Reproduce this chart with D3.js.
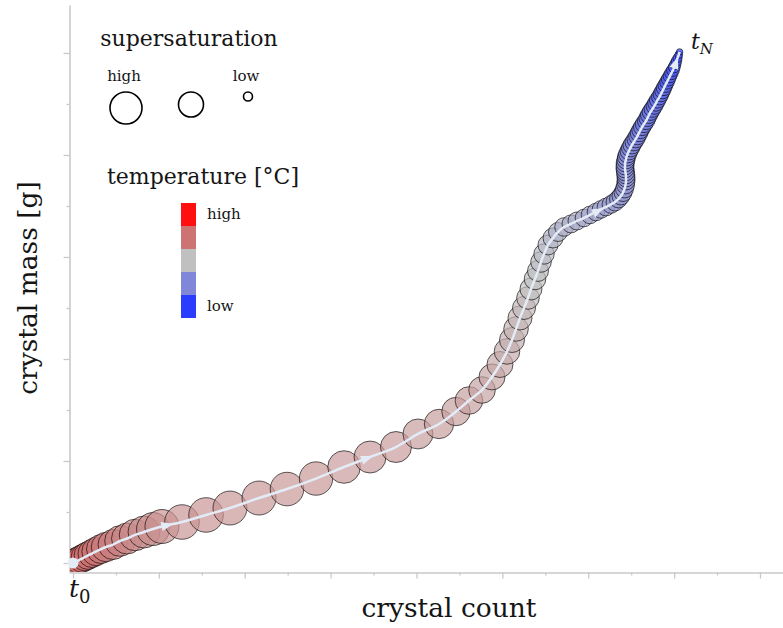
<!DOCTYPE html>
<html>
<head>
<meta charset="utf-8">
<script src="https://cdn.jsdelivr.net/npm/d3@7"></script>
<style>
  body { margin: 0; background: #fff; }
  svg { display: block; }
  text { font-family: "DejaVu Serif", serif; fill: #151515; }
</style>
</head>
<body>
<svg id="chart" width="783" height="628"></svg>
<script>
// Trajectory of the crystallisation run, one entry per time step (t0 ... tN)
const crystalCount = [
  0.000, 0.023, 0.047, 0.070, 0.105, 0.140, 0.175, 0.221, 0.268, 0.326,
  0.384, 0.466, 0.547, 0.629, 0.722, 0.827, 0.932, 1.036, 1.269, 1.549,
  1.828, 2.166, 2.492, 2.830, 3.156, 3.459, 3.761, 4.017, 4.262, 4.460,
  4.611, 4.763, 4.879, 4.972, 5.054, 5.112, 5.159, 5.205, 5.252, 5.298,
  5.333, 5.380, 5.415, 5.450, 5.485, 5.531, 5.590, 5.648, 5.718, 5.799,
  5.869, 5.950, 6.020, 6.090, 6.148, 6.207, 6.265, 6.312, 6.352, 6.381,
  6.405, 6.422, 6.434, 6.440, 6.440, 6.438, 6.433, 6.428, 6.428, 6.430,
  6.438, 6.445, 6.458, 6.474, 6.492, 6.509, 6.531, 6.554, 6.573, 6.591,
  6.608, 6.628, 6.649, 6.673, 6.690, 6.707, 6.726, 6.748, 6.770, 6.789,
  6.808, 6.830, 6.847, 6.865, 6.882, 6.899, 6.917, 6.934, 6.952, 6.969,
  6.987, 7.002, 7.015, 7.028, 7.040, 7.053, 7.064
];
const crystalMass = [
  0.000, 0.010, 0.020, 0.029, 0.044, 0.059, 0.074, 0.093, 0.113, 0.137,
  0.157, 0.181, 0.216, 0.240, 0.275, 0.304, 0.333, 0.358, 0.402, 0.471,
  0.539, 0.637, 0.725, 0.828, 0.941, 1.039, 1.137, 1.265, 1.363, 1.485,
  1.593, 1.696, 1.824, 1.946, 2.074, 2.186, 2.294, 2.402, 2.500, 2.598,
  2.686, 2.784, 2.863, 2.951, 3.029, 3.118, 3.186, 3.245, 3.294, 3.324,
  3.353, 3.382, 3.412, 3.441, 3.466, 3.490, 3.515, 3.539, 3.569, 3.598,
  3.632, 3.667, 3.706, 3.745, 3.775, 3.804, 3.833, 3.863, 3.892, 3.922,
  3.951, 3.980, 4.010, 4.039, 4.069, 4.098, 4.127, 4.157, 4.186, 4.216,
  4.245, 4.275, 4.304, 4.333, 4.363, 4.392, 4.422, 4.451, 4.480, 4.510,
  4.539, 4.569, 4.598, 4.627, 4.657, 4.686, 4.716, 4.745, 4.775, 4.804,
  4.833, 4.863, 4.892, 4.922, 4.951, 4.980, 5.010
];
const supersaturation = [
  1.35, 1.35, 1.35, 1.36, 1.37, 1.38, 1.39, 1.40, 1.42, 1.45,
  1.47, 1.50, 1.53, 1.55, 1.58, 1.60, 1.65, 1.70, 1.73, 1.73,
  1.70, 1.70, 1.68, 1.67, 1.63, 1.60, 1.55, 1.50, 1.47, 1.42,
  1.38, 1.33, 1.30, 1.30, 1.28, 1.25, 1.23, 1.20, 1.15, 1.13,
  1.10, 1.08, 1.05, 1.03, 1.02, 1.00, 1.00, 0.95, 0.93, 0.90,
  0.90, 0.88, 0.88, 0.88, 0.88, 0.89, 0.89, 0.90, 0.90, 0.90,
  0.90, 0.90, 0.90, 0.90, 0.90, 0.90, 0.90, 0.90, 0.90, 0.90,
  0.90, 0.90, 0.90, 0.90, 0.90, 0.90, 0.89, 0.89, 0.88, 0.88,
  0.87, 0.87, 0.87, 0.86, 0.86, 0.85, 0.85, 0.84, 0.83, 0.83,
  0.82, 0.80, 0.79, 0.78, 0.77, 0.75, 0.73, 0.71, 0.69, 0.67,
  0.64, 0.60, 0.56, 0.52, 0.46, 0.39, 0.32
];
// relative temperature, 1 = high, 0 = low
const temperature = [
  0.78, 0.78, 0.77, 0.77, 0.76, 0.76, 0.75, 0.75, 0.74, 0.73,
  0.72, 0.71, 0.70, 0.69, 0.68, 0.67, 0.66, 0.66, 0.65, 0.65,
  0.64, 0.64, 0.64, 0.64, 0.63, 0.63, 0.63, 0.62, 0.62, 0.61,
  0.61, 0.60, 0.59, 0.58, 0.57, 0.56, 0.55, 0.54, 0.53, 0.52,
  0.51, 0.50, 0.49, 0.48, 0.47, 0.46, 0.45, 0.44, 0.43, 0.42,
  0.41, 0.40, 0.39, 0.38, 0.37, 0.36, 0.35, 0.34, 0.33, 0.33,
  0.32, 0.32, 0.31, 0.31, 0.30, 0.30, 0.29, 0.29, 0.28, 0.28,
  0.27, 0.27, 0.26, 0.26, 0.25, 0.25, 0.24, 0.24, 0.23, 0.23,
  0.22, 0.22, 0.21, 0.21, 0.20, 0.20, 0.19, 0.19, 0.18, 0.18,
  0.17, 0.17, 0.16, 0.15, 0.15, 0.14, 0.13, 0.12, 0.12, 0.11,
  0.10, 0.09, 0.08, 0.07, 0.06, 0.05, 0.04
];
// direction arrows along the trajectory (fractional step index)
const arrowSteps = [17.25, 24.88, 53.4, 102.3];

// unlabelled axis ticks
const xTicks = [0, 0.5, 1, 1.5, 2, 2.5, 3, 3.5, 4, 4.5, 5, 5.5, 6, 6.5, 7, 7.5, 8];
const yTicks = [0, 0.5, 1, 1.5, 2, 2.5, 3, 3.5, 4, 4.5, 5];

// legends
const sizeLegendLabels = ["high", "", "low"];
const sizeLegendValues = [1.6, 1.25, 0.45];
const tempLegendLevels = [1, 0.75, 0.5, 0.25, 0];
const tempLegendLabels = ["high", "", "", "", "low"];

const svg = d3.select("#chart");
const W = 783, H = 628;

const x = d3.scaleLinear().domain([-0.041, 8.268]).range([69.5, 783]);
const y = d3.scaleLinear().domain([-0.093, 5.47]).range([572.5, 5]);
const r = d3.scaleLinear().domain([0, 2]).range([0, 20]);
const color = d3.scaleLinear()
  .domain([0, 0.25, 0.5, 0.75, 1])
  .range(["#2a3cff", "#8086d8", "#c0c0c0", "#cd7373", "#ff0f0f"]);

const axisColor = "#c9c9c9";

// axes (no tick labels)
const gx = svg.append("g").attr("transform", `translate(0,${y.range()[0]})`)
  .call(d3.axisBottom(x).tickValues(xTicks).tickFormat("").tickSizeOuter(0));
gx.selectAll(".tick line").attr("y2", d => (d % 1 === 0 ? 6 : 3));
const gy = svg.append("g").attr("transform", `translate(${x.range()[0]},0)`)
  .call(d3.axisLeft(y).tickValues(yTicks).tickFormat("").tickSizeOuter(0));
gy.selectAll(".tick line").attr("x2", d => (d % 1 === 0 ? -6 : -3));
[gx, gy].forEach(g => {
  g.select(".domain").attr("stroke", axisColor).attr("stroke-width", 1.6);
  g.selectAll(".tick line").attr("stroke", axisColor).attr("stroke-width", 1.3);
});

// plot area clip
svg.append("clipPath").attr("id", "plot-clip")
  .append("rect")
  .attr("x", x.range()[0] + 0.8).attr("y", 0)
  .attr("width", W).attr("height", y.range()[0] - 0.8);

const steps = crystalCount.map((c, i) => ({
  x: c, y: crystalMass[i], s: supersaturation[i], t: temperature[i]
}));

const plot = svg.append("g").attr("clip-path", "url(#plot-clip)");

plot.selectAll("circle.step")
  .data(steps)
  .join("circle")
  .attr("class", "step")
  .attr("cx", d => x(d.x))
  .attr("cy", d => y(d.y))
  .attr("r", d => r(d.s))
  .attr("fill", d => color(d.t))
  .attr("fill-opacity", 0.68)
  .attr("stroke", "#000")
  .attr("stroke-opacity", 0.62)
  .attr("stroke-width", 1);

// trajectory line
const pathColor = "#e3ecf6";
plot.append("path")
  .datum(steps)
  .attr("d", d3.line().x(d => x(d.x)).y(d => y(d.y)).curve(d3.curveCatmullRom.alpha(0.5)))
  .attr("fill", "none")
  .attr("stroke", pathColor)
  .attr("stroke-width", 2.5);

// direction arrows
arrowSteps.forEach(f => {
  const i = Math.floor(f), k = f - i;
  const a = steps[i], b = steps[i + 1];
  const ax = x(a.x), ay = y(a.y), bx = x(b.x), by = y(b.y);
  const px = ax + (bx - ax) * k, py = ay + (by - ay) * k;
  const ang = Math.atan2(by - ay, bx - ax) * 180 / Math.PI;
  plot.append("path")
    .attr("d", "M6.5,0 L-5.5,-4.6 L-5.5,4.6 Z")
    .attr("transform", `translate(${px},${py}) rotate(${ang})`)
    .attr("fill", pathColor);
});

// start marker
svg.append("circle")
  .attr("cx", x(steps[0].x)).attr("cy", y(steps[0].y))
  .attr("r", 5.5).attr("fill", pathColor);

// start / end labels
const t0 = svg.append("text").attr("x", 69).attr("y", 597)
  .style("font-style", "italic").style("font-size", "25px");
t0.append("tspan").text("t");
t0.append("tspan").attr("dy", 6).style("font-size", "18px").style("font-style", "normal").text("0");

const tN = svg.append("text").attr("x", 691).attr("y", 49)
  .style("font-style", "italic").style("font-size", "22px");
tN.append("tspan").text("t");
tN.append("tspan").attr("dy", 5).style("font-size", "15px").text("N");

// axis titles
svg.append("text")
  .attr("x", 449).attr("y", 617)
  .attr("text-anchor", "middle")
  .style("font-size", "26.5px")
  .text("crystal count");
svg.append("text")
  .attr("transform", "translate(37,288) rotate(-90)")
  .attr("text-anchor", "middle")
  .style("font-size", "26.5px")
  .text("crystal mass [g]");

// supersaturation legend
svg.append("text").attr("x", 189).attr("y", 46)
  .attr("text-anchor", "middle").style("font-size", "22px")
  .text("supersaturation");
const sizeLegendX = [126, 191, 248];
const legendTop = 92;
sizeLegendValues.forEach((v, i) => {
  svg.append("circle")
    .attr("cx", sizeLegendX[i]).attr("cy", legendTop + r(v))
    .attr("r", r(v))
    .attr("fill", "none").attr("stroke", "#000").attr("stroke-width", 1.6);
  if (sizeLegendLabels[i]) {
    svg.append("text").attr("x", sizeLegendX[i] - 2).attr("y", 81)
      .attr("text-anchor", "middle").style("font-size", "15px")
      .text(sizeLegendLabels[i]);
  }
});

// temperature legend
svg.append("text").attr("x", 107).attr("y", 184)
  .style("font-size", "22px")
  .text("temperature [°C]");
const swatchH = 23;
tempLegendLevels.forEach((lv, i) => {
  svg.append("rect")
    .attr("x", 181).attr("y", 203 + i * swatchH)
    .attr("width", 15).attr("height", swatchH)
    .attr("fill", color(lv));
  if (tempLegendLabels[i]) {
    svg.append("text").attr("x", 207).attr("y", 203 + i * swatchH + 16)
      .style("font-size", "15px")
      .text(tempLegendLabels[i]);
  }
});
</script>
</body>
</html>
